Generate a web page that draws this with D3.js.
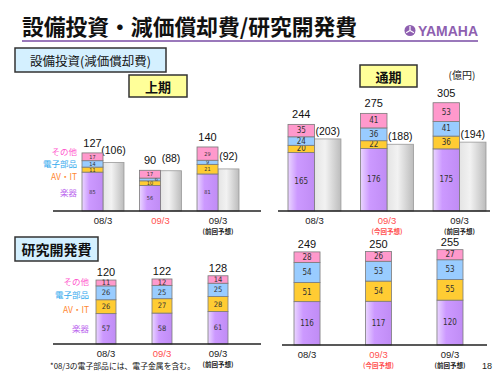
<!DOCTYPE html>
<html>
<head>
<meta charset="utf-8">
<script src="https://cdn.jsdelivr.net/npm/d3@7"></script>
<style>
  body { margin: 0; background: #fff; }
  svg { display: block; font-family: "Liberation Sans", "Noto Sans CJK JP", sans-serif; }
</style>
</head>
<body>
<div id="chart"></div>
<script>
// periods (last one is the previous forecast)
const periods = ["08/3", "09/3", "09/3f"];
const periodLabels = ["08/3", "09/3", "09/3"];
const segmentKeys = ["楽器", "AV・IT", "電子部品", "その他"];

// capex, first half
const capexH1Instruments = [85, 56, 81];
const capexH1AvIt = [11, 10, 21];
const capexH1Components = [14, 6, 9];
const capexH1Other = [17, 17, 29];
const capexH1Total = [127, 90, 140];
const deprH1 = [106, 88, 92];

// capex, full year
const capexFyInstruments = [165, 176, 175];
const capexFyAvIt = [20, 22, 36];
const capexFyComponents = [24, 36, 41];
const capexFyOther = [35, 41, 53];
const capexFyTotal = [244, 275, 305];
const deprFy = [203, 188, 194];

// R&D, first half
const rdH1Instruments = [57, 58, 61];
const rdH1AvIt = [26, 27, 28];
const rdH1Components = [26, 25, 25];
const rdH1Other = [11, 12, 14];
const rdH1Total = [120, 122, 128];

// R&D, full year
const rdFyInstruments = [116, 117, 120];
const rdFyAvIt = [51, 54, 55];
const rdFyComponents = [54, 53, 53];
const rdFyOther = [28, 26, 27];
const rdFyTotal = [249, 250, 255];

const segColors = { "楽器": "url(#gPurple)", "AV・IT": "#ffcc33", "電子部品": "#99ccff", "その他": "#ff99cc" };
const legendColors = { "楽器": "#bb66ee", "AV・IT": "#ff8833", "電子部品": "#33aaee", "その他": "#ff55cc" };

const svg = d3.select("#chart").append("svg")
    .attr("width", 500)
    .attr("height", 375);

const defs = svg.append("defs");
const gp = defs.append("linearGradient").attr("id", "gPurple");
gp.append("stop").attr("offset", "0%").attr("stop-color", "#ead6ff");
gp.append("stop").attr("offset", "35%").attr("stop-color", "#cc99ff");
gp.append("stop").attr("offset", "100%").attr("stop-color", "#c08cf5");
const gg = defs.append("linearGradient").attr("id", "gGray");
gg.append("stop").attr("offset", "0%").attr("stop-color", "#e4e4e4");
gg.append("stop").attr("offset", "40%").attr("stop-color", "#f2f2f2");
gg.append("stop").attr("offset", "100%").attr("stop-color", "#bcbcbc");

// ---- header
svg.append("text")
    .attr("x", 22).attr("y", 35)
    .attr("textLength", 335).attr("lengthAdjust", "spacingAndGlyphs")
    .style("font-family", "'Noto Sans CJK JP'")
    .style("font-size", "22px").style("font-weight", "bold")
    .style("fill", "#111")
    .text("設備投資・減価償却費/研究開発費");

svg.append("line")
    .attr("x1", 22).attr("x2", 478).attr("y1", 41).attr("y2", 41)
    .style("stroke", "#9a78bb").style("stroke-width", 2);

// yamaha mark
const logo = svg.append("g").attr("transform", "translate(410,30.5)");
logo.append("circle").attr("r", 5.5).style("fill", "#8e5fb0");
[0, 120, 240].forEach(a => {
    logo.append("line")
        .attr("x1", 0).attr("y1", 0).attr("x2", 0).attr("y2", -4.5)
        .attr("transform", `rotate(${a})`)
        .style("stroke", "#fff").style("stroke-width", 1.2);
});
svg.append("text")
    .attr("x", 418).attr("y", 36)
    .attr("textLength", 60).attr("lengthAdjust", "spacingAndGlyphs")
    .style("font-size", "14px").style("font-weight", "bold")
    .style("fill", "#8e5fb0")
    .text("YAMAHA");

// ---- labelled boxes
function labelBox(x, y, w, h, fill, text, size, bold) {
    svg.append("rect")
        .attr("x", x).attr("y", y).attr("width", w).attr("height", h)
        .style("fill", fill).style("stroke", "#333").style("stroke-width", 1.5);
    svg.append("text")
        .attr("x", x + w / 2).attr("y", y + h / 2)
        .attr("text-anchor", "middle").attr("dominant-baseline", "central")
        .style("font-family", "'Noto Sans CJK JP'")
        .style("font-size", size + "px")
        .style("font-weight", bold ? "bold" : "normal")
        .style("fill", "#111")
        .text(text);
}
labelBox(15, 48, 151, 24, "#d4f0ff", "設備投資(減価償却費)", 12.5, false);
labelBox(15, 237, 83, 24, "#d4f0ff", "研究開発費", 14, true);
labelBox(129, 75, 58, 22, "#ffff99", "上期", 13, true);
labelBox(360, 65, 57, 22, "#ffff99", "通期", 13, true);

svg.append("text")
    .attr("x", 462).attr("y", 79)
    .attr("text-anchor", "middle")
    .style("font-family", "'Noto Sans CJK JP'")
    .style("font-size", "10px").style("fill", "#222")
    .text("(億円)");

// ---- panel drawing
function drawPanel(cfg) {
    const rows = periods.map((p, i) => {
        const r = { period: p };
        segmentKeys.forEach((k, j) => { r[k] = cfg.series[j][i]; });
        return r;
    });
    const stacked = d3.stack().keys(segmentKeys)(rows);

    const x = d3.scaleBand()
        .domain(periods)
        .range(cfg.xRange)
        .paddingInner(cfg.padding)
        .paddingOuter(0);

    const inner = d3.scaleBand()
        .domain(cfg.depr ? ["main", "depr"] : ["main"])
        .range([0, x.bandwidth()]);

    const y = d3.scaleLinear()
        .domain([0, cfg.yMax])
        .range([cfg.base, cfg.yTop]);

    const g = svg.append("g");

    // depreciation bars
    if (cfg.depr) {
        g.selectAll(".depr")
            .data(cfg.depr)
            .enter()
            .append("rect")
            .attr("x", (d, i) => x(periods[i]) + inner("depr"))
            .attr("y", d => y(d))
            .attr("width", inner.bandwidth())
            .attr("height", d => y(0) - y(d))
            .style("fill", "url(#gGray)")
            .style("stroke", "#9a9a9a").style("stroke-width", 0.8);

        g.selectAll(".deprLabel")
            .data(cfg.depr)
            .enter()
            .append("text")
            .attr("x", (d, i) => x(periods[i]) + inner("depr") + inner.bandwidth() / 2)
            .attr("y", d => y(d) - cfg.deprGap)
            .attr("text-anchor", "middle")
            .style("font-size", "10.5px").style("fill", "#111")
            .text(d => `(${d})`);
    }

    // stacked segments
    const layer = g.selectAll(".layer")
        .data(stacked)
        .enter()
        .append("g");

    layer.selectAll("rect")
        .data(s => s.map(d => ({ key: s.key, d })))
        .enter()
        .append("rect")
        .attr("x", v => x(v.d.data.period) + inner("main"))
        .attr("y", v => y(v.d[1]))
        .attr("width", inner.bandwidth())
        .attr("height", v => y(v.d[0]) - y(v.d[1]))
        .style("fill", v => segColors[v.key])
        .style("stroke", "#7a7a7a").style("stroke-width", 0.8);

    // very thin segments get their number pushed to the right edge, like the original
    layer.selectAll("text")
        .data(s => s.map(d => ({ key: s.key, d })))
        .enter()
        .append("text")
        .attr("x", v => {
            const h = y(v.d[0]) - y(v.d[1]);
            const f = h < 3.5 ? 0.8 : 0.5;
            return x(v.d.data.period) + inner("main") + inner.bandwidth() * f;
        })
        .attr("y", v => (y(v.d[0]) + y(v.d[1])) / 2)
        .attr("text-anchor", "middle").attr("dominant-baseline", "central")
        .style("font-family", "'Liberation Sans Narrow', 'DejaVu Sans Condensed', sans-serif")
        .style("font-size", cfg.segFont + "px").style("fill", "#333")
        .text(v => v.d[1] - v.d[0]);

    // totals
    g.selectAll(".total")
        .data(cfg.totals)
        .enter()
        .append("text")
        .attr("x", (d, i) => x(periods[i]) + inner("main") + inner.bandwidth() / 2)
        .attr("y", d => y(d) - cfg.totalGap)
        .attr("text-anchor", "middle")
        .style("font-size", "11px").style("fill", "#111")
        .text(d => d);

    // baseline
    g.append("line")
        .attr("x1", cfg.axisX[0]).attr("x2", cfg.axisX[1])
        .attr("y1", cfg.base).attr("y2", cfg.base)
        .style("stroke", "#222").style("stroke-width", 1.5);

    // category labels
    const axis = g.append("g")
        .attr("transform", `translate(0,${cfg.base})`)
        .call(d3.axisBottom(x).tickSize(0).tickPadding(6)
            .tickFormat((d, i) => periodLabels[i]));
    axis.select(".domain").remove();
    axis.selectAll("text")
        .style("font-family", "'Liberation Sans', sans-serif")
        .style("font-size", "9.5px")
        .style("fill", (d, i) => i === 1 ? "#ff5050" : "#222");

    // notes under categories
    const notes = cfg.notes;
    periods.forEach((p, i) => {
        if (!notes[i]) return;
        g.append("text")
            .attr("x", x(p) + x.bandwidth() / 2)
            .attr("y", cfg.base + 23)
            .attr("text-anchor", "middle")
            .style("font-family", "'Noto Sans CJK JP'")
            .style("font-size", "6.5px").style("font-weight", "bold")
            .style("fill", i === 1 ? "#ff5050" : "#222")
            .text(notes[i]);
    });

    // legend labels
    if (cfg.legendY) {
        segmentKeys.forEach((k, j) => {
            g.append("text")
                .attr("x", cfg.legendX)
                .attr("y", cfg.legendY[j])
                .attr("text-anchor", "end").attr("dominant-baseline", "central")
                .style("font-family", "'Noto Sans CJK JP'")
                .style("font-size", "8.5px")
                .style("fill", legendColors[k])
                .text(k);
        });
    }
}

drawPanel({
    series: [capexH1Instruments, capexH1AvIt, capexH1Components, capexH1Other],
    totals: capexH1Total, depr: deprH1,
    xRange: [82, 239], padding: 0.27,
    base: 211, yMax: 150, yTop: 142.4,
    axisX: [53, 261], segFont: 5.5, totalGap: 6, deprGap: 9,
    notes: [null, null, "(前回予想)"],
    legendX: 77, legendY: [192, 176, 163, 151]
});

drawPanel({
    series: [capexFyInstruments, capexFyAvIt, capexFyComponents, capexFyOther],
    totals: capexFyTotal, depr: deprFy,
    xRange: [288, 486], padding: 0.27,
    base: 211, yMax: 320, yTop: 97.4,
    axisX: [278, 490], segFont: 8, totalGap: 6, deprGap: 4,
    notes: [null, "(今回予想)", "(前回予想)"]
});

drawPanel({
    series: [rdH1Instruments, rdH1AvIt, rdH1Components, rdH1Other],
    totals: rdH1Total, depr: null,
    xRange: [96, 228], padding: 0.643,
    base: 344, yMax: 130, yTop: 274.7,
    axisX: [53, 261], segFont: 7.5, totalGap: 4, deprGap: 0,
    notes: [null, null, "(前回予想)"],
    legendX: 89, legendY: [328, 309, 294, 281]
});

drawPanel({
    series: [rdFyInstruments, rdFyAvIt, rdFyComponents, rdFyOther],
    totals: rdFyTotal, depr: null,
    xRange: [294, 463], padding: 0.636,
    base: 345, yMax: 260, yTop: 247.8,
    axisX: [282, 487], segFont: 8, totalGap: 4, deprGap: 0,
    notes: [null, "(今回予想)", "(前回予想)"]
});

// footnote and page number
svg.append("text")
    .attr("x", 50).attr("y", 369)
    .attr("textLength", 145).attr("lengthAdjust", "spacingAndGlyphs")
    .style("font-family", "'Noto Sans CJK JP'")
    .style("font-size", "8px").style("fill", "#111")
    .text("*08/3の電子部品には、電子金属を含む。");

svg.append("text")
    .attr("x", 487).attr("y", 369)
    .attr("text-anchor", "middle")
    .style("font-size", "9px").style("fill", "#222")
    .text("18");
</script>
</body>
</html>
